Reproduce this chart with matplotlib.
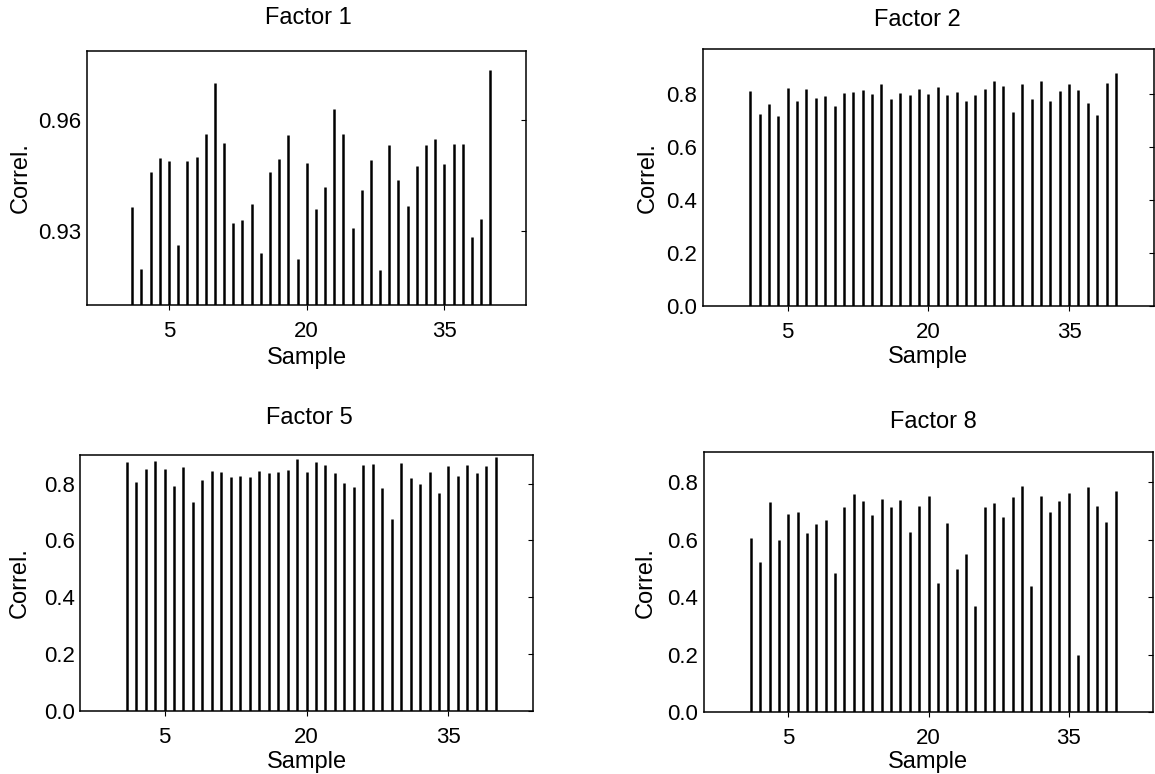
import matplotlib
matplotlib.use("Agg")
import matplotlib.pyplot as plt
import numpy as np

plt.rcParams['font.family'] = ['Liberation Sans', 'DejaVu Sans']

samples = list(range(1, 41))

factor1 = [0.9365, 0.9199, 0.9460, 0.9498, 0.9490, 0.9263, 0.9489, 0.9499, 0.9563, 0.9701,
           0.9538, 0.9321, 0.9331, 0.9372, 0.9242, 0.9459, 0.9495, 0.9560, 0.9225, 0.9485,
           0.9360, 0.9420, 0.9630, 0.9562, 0.9309, 0.9410, 0.9491, 0.9196, 0.9533, 0.9439,
           0.9367, 0.9477, 0.9533, 0.9550, 0.9481, 0.9534, 0.9534, 0.9285, 0.9334, 0.9734]
factor2 = [0.8126, 0.7245, 0.7623, 0.7170, 0.8239, 0.7736, 0.8176, 0.7836, 0.7925, 0.7535,
           0.8038, 0.8075, 0.8151, 0.8000, 0.8377, 0.7811, 0.8050, 0.7962, 0.8189, 0.7987,
           0.8252, 0.7962, 0.8075, 0.7736, 0.7962, 0.8176, 0.8491, 0.8314, 0.7308, 0.8365,
           0.7824, 0.8478, 0.7748, 0.8113, 0.8365, 0.8164, 0.7673, 0.7195, 0.8403, 0.8805]
factor5 = [0.8775, 0.8059, 0.8529, 0.8811, 0.8517, 0.7930, 0.8587, 0.7354, 0.8141, 0.8435,
           0.8411, 0.8235, 0.8270, 0.8223, 0.8435, 0.8388, 0.8411, 0.8493, 0.8869, 0.8399,
           0.8775, 0.8658, 0.8364, 0.8023, 0.7894, 0.8658, 0.8681, 0.7847, 0.6755, 0.8728,
           0.8211, 0.7988, 0.8423, 0.7683, 0.8634, 0.8258, 0.8669, 0.8376, 0.8622, 0.8928]
factor8 = [0.6055, 0.5221, 0.7305, 0.5986, 0.6889, 0.6958, 0.6229, 0.6553, 0.6669, 0.4839,
           0.7132, 0.7572, 0.7340, 0.6854, 0.7410, 0.7132, 0.7363, 0.6275, 0.7166, 0.7514,
           0.4504, 0.6588, 0.4967, 0.5499, 0.3693, 0.7132, 0.7271, 0.6773, 0.7491, 0.7861,
           0.4399, 0.7514, 0.6958, 0.7352, 0.7606, 0.2003, 0.7826, 0.7155, 0.6622, 0.7687]

titles = ["Factor 1", "Factor 2", "Factor 5", "Factor 8"]
series = [factor1, factor2, factor5, factor8]
xticks = [5, 20, 35]
yticks_list = [[0.93, 0.96], [0.0, 0.2, 0.4, 0.6, 0.8], [0.0, 0.2, 0.4, 0.6, 0.8], [0.0, 0.2, 0.4, 0.6, 0.8]]
ytick_fmt = ["{:.2f}", "{:.1f}", "{:.1f}", "{:.1f}"]
ylims = [(0.910, 0.9787), (0.0, 0.970), (0.0, 0.900), (0.0, 0.903)]
xlims = [(-3.9, 43.9), (-4.05, 44.0), (-3.9, 43.9), (-4.05, 44.0)]

W, H = 1155, 774
# axes boxes in pixels: left, right, top, bottom
boxes = [(87.3, 526.1, 50.7, 305.3),
         (702.8, 1153.5, 49.0, 306.0),
         (80.3, 532.7, 455.3, 710.7),
         (703.6, 1153.0, 452.3, 712.3)]
title_pos = [(308, 18), (917, 20), (309, 418), (933, 422)]
ylab_x = [21, 648, 20, 645.5]
xlab_y = [357.7, 357.0, 762.0, 762.0]

fig = plt.figure(figsize=(W / 100, H / 100), dpi=100)
FS_TICK = 16
FS_LAB = 17

for i in range(4):
    l, r, t, b = boxes[i]
    ax = fig.add_axes([l / W, 1 - b / H, (r - l) / W, (b - t) / H])
    ax.vlines(samples, 0, series[i], colors='black', linewidth=1.8)
    ax.set_xlim(*xlims[i])
    ax.set_ylim(*ylims[i])
    ax.set_xticks(xticks)
    ax.set_xticklabels([str(v) for v in xticks])
    ax.set_yticks(yticks_list[i])
    ax.set_yticklabels([ytick_fmt[i].format(v) for v in yticks_list[i]])
    for s in ax.spines.values():
        s.set_linewidth(1.1)
    ax.tick_params(axis='y', left=False, right=True, direction='in', length=3.5,
                   width=0.8, labelsize=FS_TICK, pad=4)
    ax.tick_params(axis='x', bottom=True, top=False, direction='out', length=3.6,
                   width=0.8, labelsize=FS_TICK, pad=8)
    ax.set_xlabel("Sample", fontsize=FS_LAB)
    ax.set_ylabel("Correl.", fontsize=FS_LAB)
    ax.xaxis.label.set_va('center')
    ax.yaxis.label.set_va('center')
    ax.xaxis.set_label_coords(0.5, (b - xlab_y[i]) / (b - t))
    ax.yaxis.set_label_coords((ylab_x[i] - l) / (r - l), 0.5)
    tx, ty = title_pos[i]
    fig.text(tx / W, 1 - ty / H, titles[i], ha='center', va='center', fontsize=FS_LAB)

fig.savefig("out.png", dpi=100)
